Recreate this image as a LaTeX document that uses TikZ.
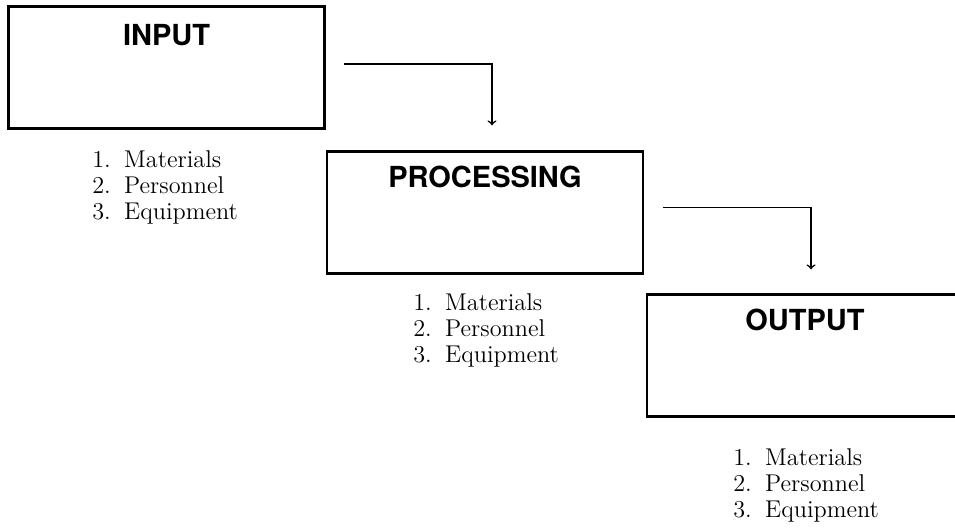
\documentclass[tikz,border=0pt]{standalone}
\usepackage{fontspec}
\newfontfamily\headfont{TeX Gyre Heros}
\usetikzlibrary{arrows,positioning,calc}

\tikzset{
  stagebox/.style={draw,rectangle,line width=1.4pt,minimum width=6.32cm,minimum height=2.44cm,inner sep=0pt},
  stagetitle/.style={anchor=base,inner sep=0pt,font=\headfont\bfseries\fontsize{16.5}{18}\selectfont},
  itemlist/.style={anchor=north west,inner sep=0pt,align=left,font=\fontsize{13.8}{14.8}\selectfont},
  flow/.style={->,line width=0.9pt}
}

\begin{document}
\begin{tikzpicture}[x=0.02cm,y=-0.02cm]
        \useasboundingbox (0,0) rectangle (955,528);

        % Stages
        \node[stagebox] (input) at (166.5,67.5) {};
        \node[stagebox] (proc) at (485,212.5) {};
        \node[stagebox] (output) at (805,355.5) {};

        % Stage titles
        \node[stagetitle] (inputtitle) at (166.5,45) {INPUT};
        \node[stagetitle] (proctitle) at (485,187) {PROCESSING};
        \node[stagetitle] (outputtitle) at (805,330) {OUTPUT};

        % Resources under each stage
        \node[itemlist] (inputlist) at (92,150.5) {1.\hspace{0.55em}Materials\\2.\hspace{0.55em}Personnel\\3.\hspace{0.55em}Equipment};
        \node[itemlist] (proclist) at (413,293.5) {1.\hspace{0.55em}Materials\\2.\hspace{0.55em}Personnel\\3.\hspace{0.55em}Equipment};
        \node[itemlist] (outputlist) at (733,448.5) {1.\hspace{0.55em}Materials\\2.\hspace{0.55em}Personnel\\3.\hspace{0.55em}Equipment};

        % Arrows
        \draw[flow,shorten <=0.36cm,shorten >=0.5cm] ([yshift=0.07cm]input.east) -| ([xshift=0.14cm]proc.north);
        \draw[flow,shorten <=0.38cm,shorten >=0.48cm] ([yshift=0.1cm]proc.east) -| ([xshift=0.12cm]output.north);
    \end{tikzpicture}
\end{document}
